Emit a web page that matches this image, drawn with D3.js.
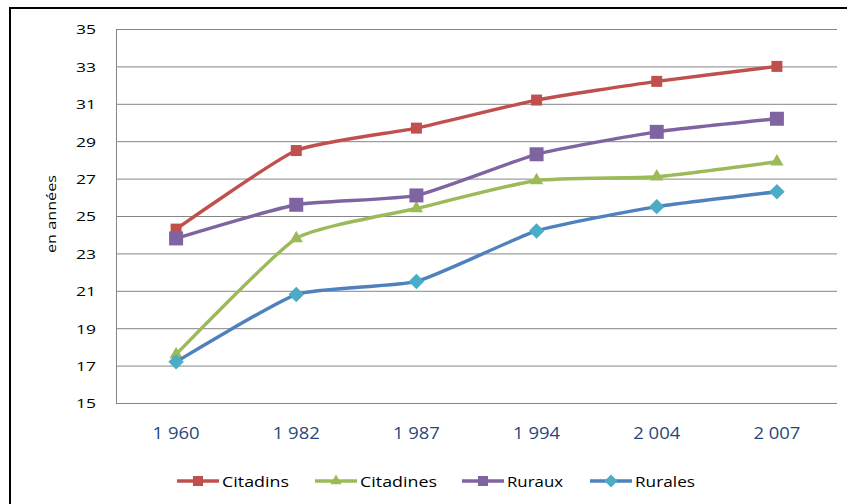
<!DOCTYPE html>
<html><head><meta charset="utf-8">
<script src="https://cdn.jsdelivr.net/npm/d3@7"></script>
<style>body{margin:0;background:#fff}svg{display:block}</style>
</head><body>
<svg id="c" width="847" height="504"></svg>
<script>
const categories = ["1 960", "1 982", "1 987", "1 994", "2 004", "2 007"];
const citadins  = [24.3, 28.5, 29.7, 31.2, 32.2, 33.0];
const citadines = [17.6, 23.8, 25.4, 26.9, 27.1, 27.9];
const ruraux    = [23.8, 25.6, 26.1, 28.3, 29.5, 30.2];
const rurales   = [17.2, 20.8, 21.5, 24.2, 25.5, 26.3];
const yTicks = [15, 17, 19, 21, 23, 25, 27, 29, 31, 33, 35];
const seriesNames = ["Citadins", "Citadines", "Ruraux", "Rurales"];

const series = [
  {name: seriesNames[0], values: citadins,  line: "#C0504D", fill: "#C0504D", marker: "square", size: 11},
  {name: seriesNames[1], values: citadines, line: "#9BBB59", fill: "#9BBB59", marker: "triangle", size: 13},
  {name: seriesNames[2], values: ruraux,    line: "#8064A2", fill: "#8064A2", marker: "square", size: 14},
  {name: seriesNames[3], values: rurales,   line: "#4F81BD", fill: "#4BACC6", marker: "diamond", size: 13}
];

const svg = d3.select("#c");
const font = "'Open Sans', 'Liberation Sans', sans-serif";
const L = 116, R = 837, T = 29, B = 403;

// outer frame
svg.append("path").attr("d", `M10,504 V8 H847`).attr("fill", "none").attr("stroke", "#000").attr("stroke-width", 2);

const x = d3.scaleBand().domain(categories).range([L, R]);
const y = d3.scaleLinear().domain([15, 35]).range([B, T]);

// gridlines
svg.append("g").selectAll("line").data(yTicks.filter(t => t > 15)).join("line")
  .attr("x1", L).attr("x2", R).attr("y1", d => y(d) + 0.5).attr("y2", d => y(d) + 0.5)
  .attr("stroke", "#868686").attr("stroke-width", 1);

// axes
const ya = svg.append("g").attr("transform", `translate(${L},0)`)
  .call(d3.axisLeft(y).tickValues(yTicks).tickSize(0).tickPadding(20));
ya.select(".domain").attr("stroke", "#868686");
ya.selectAll("text").attr("font-family", font).attr("font-size", 13.5).attr("fill", "#000")
  .attr("textLength", 20).attr("lengthAdjust", "spacingAndGlyphs").attr("dy", "0.36em");

const xa = svg.append("g").attr("transform", `translate(0,${B})`)
  .call(d3.axisBottom(x).tickSize(0).tickPadding(0));
xa.select(".domain").attr("stroke", "#868686").attr("d", `M${L},0.5H${R}`);
xa.selectAll("text").attr("font-family", font).attr("font-size", 15.5).attr("fill", "#1F497D")
  .attr("dy", null).attr("y", 36).attr("x", -23.5).attr("text-anchor", "start")
  .attr("textLength", 47).attr("lengthAdjust", "spacingAndGlyphs");

// y label
svg.append("text").attr("transform", `translate(56,214) rotate(-90)`)
  .attr("text-anchor", "middle").attr("font-family", font).attr("font-size", 13).attr("fill", "#000")
  .attr("textLength", 78).attr("lengthAdjust", "spacingAndGlyphs")
  .text("en années");

const cx = i => x(categories[i]) + x.bandwidth() / 2;
const line = d3.line().x((d, i) => cx(i)).y(d => y(d)).curve(d3.curveCardinal.tension(0.5));

function marker(g, type, size, color) {
  let sym;
  if (type === "square") sym = d3.symbol().type(d3.symbolSquare).size(size * size);
  else if (type === "triangle") sym = d3.symbol().type(d3.symbolTriangle).size(size * size * 0.45);
  else sym = d3.symbol().type(d3.symbolDiamond2).size(size * size * 0.9);
  g.append("path").attr("d", sym()).attr("fill", color);
}

series.forEach(s => {
  svg.append("path").datum(s.values).attr("d", line)
    .attr("fill", "none").attr("stroke", s.line).attr("stroke-width", 3.4).attr("stroke-linejoin", "round");
  s.values.forEach((v, i) => {
    const g = svg.append("g").attr("transform", `translate(${cx(i)},${y(v)})`);
    marker(g, s.marker, s.size, s.fill);
  });
});

// legend
const legX = [177, 315, 462, 590];
const legW = [67, 77, 56, 60];
series.forEach((s, i) => {
  const g = svg.append("g").attr("transform", `translate(${legX[i]},481)`);
  g.append("line").attr("x1", 0).attr("x2", 42).attr("stroke", s.line).attr("stroke-width", 3.4);
  const m = g.append("g").attr("transform", "translate(21,0)");
  marker(m, s.marker, s.marker === "square" ? 10 : 11, s.fill);
  g.append("text").attr("x", 45).attr("y", 5.5).attr("font-family", font).attr("font-size", 15)
    .attr("textLength", legW[i]).attr("lengthAdjust", "spacingAndGlyphs")
    .attr("fill", "#000").text(s.name);
});
</script>
</body></html>
